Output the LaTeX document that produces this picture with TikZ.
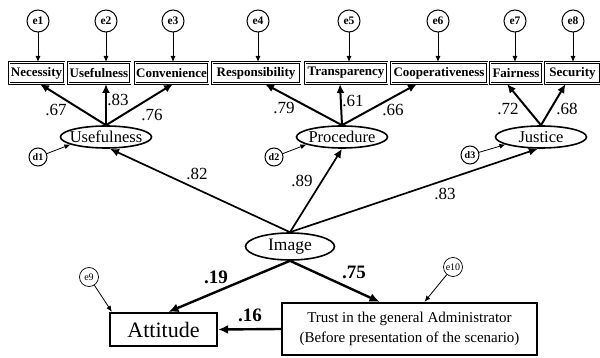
\documentclass[tikz,border=0pt]{standalone}
\usepackage{fontspec}
\setmainfont{Liberation Serif}
\usetikzlibrary{arrows.meta,shapes.geometric}
\begin{document}
\begin{tikzpicture}[x=1pt,y=-1pt,
  obs/.style={draw,double,line width=1pt,double distance=0.7pt,minimum height=21pt,inner xsep=0.3pt,inner ysep=0pt,font=\bfseries\fontsize{13}{14}\selectfont},
  err/.style={draw,circle,minimum size=22pt,inner sep=0pt,line width=1pt,font=\bfseries\fontsize{11.5}{12}\selectfont},
  errs/.style={draw,circle,minimum size=19pt,inner sep=0pt,line width=0.7pt,font=\fontsize{10}{10}\selectfont},
  dist/.style={draw,circle,minimum size=18pt,inner sep=0pt,line width=1pt,font=\bfseries\fontsize{10}{10}\selectfont},
  lat/.style={draw,ellipse,line width=1.6pt,minimum width=91pt,minimum height=22pt,inner xsep=-4pt,inner ysep=-1pt,font=\fontsize{16.5}{18}\selectfont},
  outb/.style={draw,line width=2.3pt,inner sep=0pt},
  earr/.style={line width=1pt,-{Latex[length=6pt,width=5pt]}},
  ldarr/.style={line width=2pt,-{Latex[length=9pt,width=8pt]}},
  parr/.style={line width=1.7pt,-{Latex[length=9pt,width=8pt]}},
  barr/.style={line width=2.4pt,-{Latex[length=10pt,width=9pt]}},
  thinarr/.style={line width=0.8pt,-{Latex[length=6pt,width=5pt]}},
  lbl/.style={font=\fontsize{17}{18}\selectfont,inner sep=0pt},
  blbl/.style={font=\bfseries\fontsize{19}{20}\selectfont,inner sep=0pt}]
\useasboundingbox (0,0) rectangle (600,358);
% observed indicators
\node[obs,minimum width=55pt] (nec) at (36.5,73) {Necessity};
\node[obs,minimum width=62pt] (usf) at (99,73) {Usefulness};
\node[obs,minimum width=73pt] (con) at (171.5,73) {Convenience};
\node[obs,minimum width=88pt] (res) at (256,73) {Responsibility};
\node[obs,minimum width=82pt] (tra) at (346,73) {Transparency};
\node[obs,minimum width=96pt] (coo) at (439,73) {Cooperativeness};
\node[obs,minimum width=52pt] (fai) at (516,73) {Fairness};
\node[obs,minimum width=55pt] (sec) at (572.5,73) {Security};
% errors
\node[err] (e1) at (38,21) {e1};
\node[err] (e2) at (106,21) {e2};
\node[err] (e3) at (173,21) {e3};
\node[err] (e4) at (258,21) {e4};
\node[err] (e5) at (349,21) {e5};
\node[err] (e6) at (438,21) {e6};
\node[err] (e7) at (515,21) {e7};
\node[err] (e8) at (573,21) {e8};
\draw[earr] (e1) -- (e1 |- nec.north);
\draw[earr] (e2) -- (e2 |- usf.north);
\draw[earr] (e3) -- (e3 |- con.north);
\draw[earr] (e4) -- (e4 |- res.north);
\draw[earr] (e5) -- (e5 |- tra.north);
\draw[earr] (e6) -- (e6 |- coo.north);
\draw[earr] (e7) -- (e7 |- fai.north);
\draw[earr] (e8) -- (e8 |- sec.north);
% latent variables
\node[lat] (use) at (106,137) {Usefulness};
\node[lat] (pro) at (342,137) {Procedure};
\node[lat] (jus) at (541,137) {Justice};
\node[lat,minimum width=89pt,minimum height=27pt,inner xsep=0pt,inner ysep=0pt,font=\fontsize{17.5}{19}\selectfont] (img) at (290,246.5) {Image};
% disturbances
\node[dist] (d1) at (38,157) {d1};
\node[dist] (d2) at (274,157) {d2};
\node[dist] (d3) at (470,155) {d3};
\draw[thinarr] (d1) -- (use.192);
\draw[thinarr] (d2) -- (pro.192);
\draw[thinarr] (d3) -- (jus.192);
% loadings
\draw[ldarr] (use.north) -- ([xshift=3.5pt]nec.south);
\draw[ldarr] (use.north) -- ([xshift=7pt]usf.south);
\draw[ldarr] (use.north) -- ([xshift=1.5pt]con.south);
\draw[ldarr] (pro.north) -- ([xshift=9pt]res.south);
\draw[ldarr] (pro.north) -- ([xshift=-6pt]tra.south);
\draw[ldarr] (pro.north) -- ([xshift=-22pt]coo.south);
\draw[ldarr] (jus.north) -- ([xshift=-9pt]fai.south);
\draw[ldarr] (jus.north) -- ([xshift=-7pt]sec.south);
\node[lbl] at (56,110) {.67};
\node[lbl] at (118,100) {.83};
\node[lbl] at (152,115) {.76};
\node[lbl] at (284,108) {.79};
\node[lbl] at (353,101) {.61};
\node[lbl] at (393,110) {.66};
\node[lbl] at (508,109) {.72};
\node[lbl] at (567,109) {.68};
% image paths
\draw[parr] (img.north) -- ([xshift=4pt]use.south);
\draw[parr] (img.north) -- (pro.south);
\draw[parr] (img.north) -- (jus.255);
\node[lbl] at (197,174) {.82};
\node[lbl] at (302,181) {.89};
\node[lbl] at (445,194) {.83};
% outcomes
\node[outb,minimum width=107pt,minimum height=33pt,font=\fontsize{22}{24}\selectfont] (att) at (163.5,329.5) {Attitude};
\node[outb,minimum width=255pt,minimum height=52pt,align=center,font=\fontsize{15}{20}\selectfont] (tru) at (409.5,329) {Trust in the general Administrator\\(Before presentation of the scenario)};
\node[errs] (e9) at (89,277) {e9};
\node[errs] (e10) at (453,267) {e10};
\draw[thinarr] (e9) -- ([xshift=3pt]att.north west);
\draw[thinarr] (e10) -- ([xshift=15pt]tru.north);
\draw[barr] (img.south) -- ([xshift=5pt]att.north);
\draw[barr] (img.south) -- ([xshift=-30pt]tru.north);
\draw[barr] (tru.west) -- (att.east);
\node[blbl] at (216,277) {.19};
\node[blbl] at (354,272) {.75};
\node[blbl] at (250,315) {.16};
\end{tikzpicture}
\end{document}
